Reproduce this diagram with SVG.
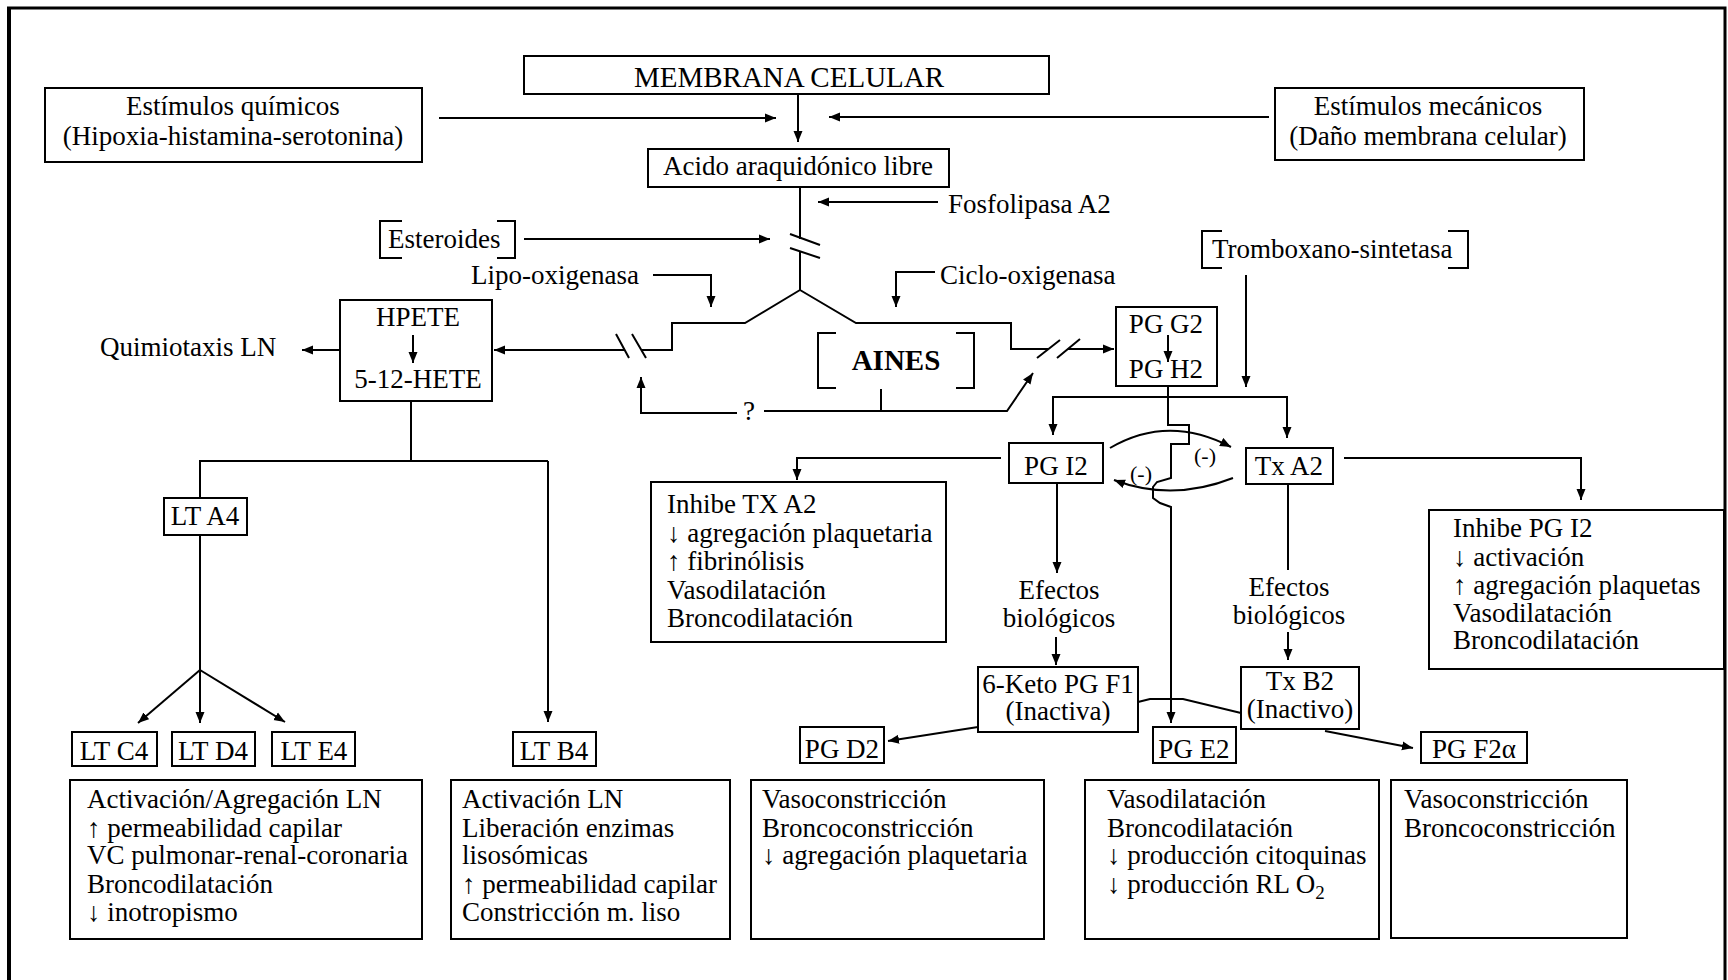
<svg xmlns="http://www.w3.org/2000/svg" width="1728" height="980" viewBox="0 0 1728 980">
<defs>
<style>
  text { font-family: "Liberation Serif", "Times New Roman", serif; font-size: 27px; fill: #000; }
  .c { text-anchor: middle; }
  .box { fill: #fff; stroke: #000; stroke-width: 2; }
  .brk { fill: none; stroke: #000; stroke-width: 2; }
  .ln { fill: none; stroke: #000; stroke-width: 2; }
  .arr { marker-end: url(#ah); }
  .sign { font-size: 22px; }
</style>
<marker id="ah" viewBox="0 0 11 10" refX="11" refY="5" markerWidth="11" markerHeight="10" markerUnits="userSpaceOnUse" orient="auto">
  <path d="M0,0.5 L11,5 L0,9.5 z" fill="#000"/>
</marker>
</defs>

<rect x="0" y="0" width="1728" height="980" fill="#fff"/>

<!-- outer frame -->
<g id="frame" fill="none" stroke="#000">
  <path d="M9,990 V8" stroke-width="4"/>
  <path d="M7,8 H1725 V990" stroke-width="3"/>
</g>

<!-- connectors -->
<g id="connectors">
  <path class="ln arr" d="M439,118 H776"/>
  <path class="ln arr" d="M1269,117 H829"/>
  <path class="ln arr" d="M798,94 V142"/>
  <path class="ln arr" d="M938,202 H818"/>
  <path class="ln" d="M800,187 V239"/>
  <path class="ln" d="M800,252 V290"/>
  <path class="ln" d="M790,234 L820,245 M790,248 L820,258"/>
  <path class="ln arr" d="M524,239 H770"/>
  <path class="ln arr" d="M653,275 H711 V307"/>
  <path class="ln arr" d="M935,272 H896 V307"/>

  <!-- lipo-oxigenasa branch -->
  <path class="ln" d="M800,290 L745,323 H672 V350 H641"/>
  <path class="ln" d="M616,334 L629,358 M632,334 L646,358"/>
  <path class="ln arr" d="M625,350 H494"/>
  <!-- ciclo-oxigenasa branch -->
  <path class="ln" d="M800,290 L856,323 H1011 V349 H1048"/>
  <path class="ln" d="M1037,358 L1060,340 M1057,358 L1080,339"/>
  <path class="ln arr" d="M1068,349 H1114"/>

  <!-- AINES feedback -->
  <path class="ln" d="M881,389 V411"/>
  <path class="ln arr" d="M764,411 H1007 L1033,373"/>
  <path class="ln arr" d="M737,413 H641 V377"/>

  <!-- leukotriene side -->
  <path class="ln arr" d="M340,350 H302"/>
  <path class="ln" d="M411,401 V461"/>
  <path class="ln" d="M200,498 V461 H548"/>
  <path class="ln arr" d="M548,461 V722"/>
  <path class="ln" d="M200,535 V670"/>
  <path class="ln arr" d="M200,670 L138,723"/>
  <path class="ln arr" d="M200,670 V723"/>
  <path class="ln arr" d="M200,670 L285,722"/>

  <!-- prostanoid side -->
  <path class="ln arr" d="M1246,275 V387"/>
  <path class="ln" d="M1168,386 V397"/>
  <path class="ln arr" d="M1168,397 H1053 V435"/>
  <path class="ln arr" d="M1168,397 H1287 V438"/>
  <path class="ln arr" d="M1168,397 V425 H1189 V444 H1171 V478 L1157,482 L1153,487 V498 L1160,503 L1171,507 V723"/>
  <path class="ln arr" d="M1110,448 Q1168,414 1231,447"/>
  <path class="ln arr" d="M1233,478 Q1172,502 1114,480"/>
  <path class="ln arr" d="M1001,458 H797 V480"/>
  <path class="ln arr" d="M1057,483 V573"/>
  <path class="ln arr" d="M1056,637 V665"/>
  <path class="ln arr" d="M1344,458 H1581 V500"/>
  <path class="ln" d="M1288,484 V570"/>
  <path class="ln arr" d="M1288,632 V660"/>
  <path class="ln arr" d="M978,727 L888,741"/>
  <path class="ln" d="M1138,702 L1150,699 H1183 L1241,713"/>
  <path class="ln arr" d="M1325,731 L1413,748"/>
</g>

<!-- nodes -->
<g id="membrana">
  <rect class="box" x="524" y="56" width="525" height="38"/>
  <text class="c" x="789" y="87" style="font-size:29px">MEMBRANA CELULAR</text>
</g>

<g id="estimulos-quimicos">
  <rect class="box" x="45" y="88" width="377" height="74"/>
  <text class="c" x="233" y="115">Estímulos químicos</text>
  <text class="c" x="233" y="145">(Hipoxia-histamina-serotonina)</text>
</g>

<g id="estimulos-mecanicos">
  <rect class="box" x="1275" y="88" width="309" height="72"/>
  <text class="c" x="1428" y="115">Estímulos mecánicos</text>
  <text class="c" x="1428" y="145">(Daño membrana celular)</text>
</g>

<g id="acido">
  <rect class="box" x="648" y="149" width="301" height="38"/>
  <text class="c" x="798" y="175">Acido araquidónico libre</text>
</g>

<g id="fosfolipasa">
  <text x="948" y="213">Fosfolipasa A2</text>
</g>

<g id="esteroides">
  <path class="brk" d="M402,221 H380 V258 H402 M497,221 H515 V258 H497"/>
  <text x="388" y="248">Esteroides</text>
</g>

<g id="lipo-oxigenasa">
  <text x="471" y="284">Lipo-oxigenasa</text>
</g>

<g id="ciclo-oxigenasa">
  <text x="940" y="284">Ciclo-oxigenasa</text>
</g>

<g id="tromboxano-sintetasa">
  <path class="brk" d="M1222,231 H1202 V268 H1222 M1448,231 H1468 V268 H1448"/>
  <text x="1212" y="258">Tromboxano-sintetasa</text>
</g>

<g id="hpete">
  <rect class="box" x="340" y="300" width="152" height="101"/>
  <text class="c" x="418" y="326">HPETE</text>
  <path class="ln arr" d="M413,335 V363"/>
  <text class="c" x="418" y="388">5-12-HETE</text>
</g>

<g id="quimiotaxis">
  <text x="100" y="356">Quimiotaxis LN</text>
</g>

<g id="aines">
  <path class="brk" d="M836,333 H818 V388 H836 M956,333 H974 V388 H956"/>
  <text class="c" x="896" y="370" style="font-size:29px;font-weight:bold">AINES</text>
</g>

<g id="interrogante">
  <text class="c" x="749" y="420">?</text>
</g>

<g id="pgg2-pgh2">
  <rect class="box" x="1116" y="307" width="101" height="79"/>
  <text class="c" x="1166" y="333">PG G2</text>
  <path class="ln arr" d="M1168,335 V362"/>
  <text class="c" x="1166" y="378">PG H2</text>
</g>

<g id="pgi2">
  <rect class="box" x="1009" y="443" width="94" height="40"/>
  <text class="c" x="1056" y="475">PG I2</text>
</g>

<g id="txa2">
  <rect class="box" x="1246" y="448" width="87" height="36"/>
  <text class="c" x="1289" y="475">Tx A2</text>
</g>

<g id="inhibicion">
  <text class="c sign" x="1205" y="463">(-)</text>
  <text class="c sign" x="1141" y="481">(-)</text>
</g>

<g id="inhibe-txa2">
  <rect class="box" x="651" y="482" width="295" height="160"/>
  <text x="667" y="513">Inhibe TX A2</text>
  <text x="667" y="542">↓ agregación plaquetaria</text>
  <text x="667" y="570">↑ fibrinólisis</text>
  <text x="667" y="599">Vasodilatación</text>
  <text x="667" y="627">Broncodilatación</text>
</g>

<g id="inhibe-pgi2">
  <rect class="box" x="1429" y="510" width="295" height="159"/>
  <text x="1453" y="537">Inhibe PG I2</text>
  <text x="1453" y="566">↓ activación</text>
  <text x="1453" y="594">↑ agregación plaquetas</text>
  <text x="1453" y="622">Vasodilatación</text>
  <text x="1453" y="649">Broncodilatación</text>
</g>

<g id="efectos-pgi2">
  <text class="c" x="1059" y="599">Efectos</text>
  <text class="c" x="1059" y="627">biológicos</text>
</g>

<g id="efectos-txa2">
  <text class="c" x="1289" y="596">Efectos</text>
  <text class="c" x="1289" y="624">biológicos</text>
</g>

<g id="keto-pgf1">
  <rect class="box" x="978" y="667" width="160" height="65"/>
  <text class="c" x="1058" y="693">6-Keto PG F1</text>
  <text class="c" x="1058" y="720">(Inactiva)</text>
</g>

<g id="txb2">
  <rect class="box" x="1241" y="667" width="118" height="62"/>
  <text class="c" x="1300" y="690">Tx B2</text>
  <text class="c" x="1300" y="718">(Inactivo)</text>
</g>

<g id="pgd2">
  <rect class="box" x="800" y="727" width="84" height="36"/>
  <text class="c" x="842" y="758">PG D2</text>
</g>

<g id="pge2">
  <rect class="box" x="1153" y="727" width="83" height="36"/>
  <text class="c" x="1194" y="758">PG E2</text>
</g>

<g id="pgf2a">
  <rect class="box" x="1421" y="732" width="106" height="31"/>
  <text class="c" x="1474" y="758">PG F2α</text>
</g>

<g id="lta4">
  <rect class="box" x="164" y="498" width="83" height="37"/>
  <text class="c" x="205" y="525">LT A4</text>
</g>

<g id="ltc4">
  <rect class="box" x="72" y="732" width="85" height="34"/>
  <text class="c" x="114" y="760">LT C4</text>
</g>

<g id="ltd4">
  <rect class="box" x="172" y="732" width="83" height="34"/>
  <text class="c" x="213" y="760">LT D4</text>
</g>

<g id="lte4">
  <rect class="box" x="272" y="732" width="83" height="34"/>
  <text class="c" x="314" y="760">LT E4</text>
</g>

<g id="ltb4">
  <rect class="box" x="513" y="732" width="83" height="34"/>
  <text class="c" x="554" y="760">LT B4</text>
</g>

<g id="efectos-lt-cde4">
  <rect class="box" x="70" y="780" width="352" height="159"/>
  <text x="87" y="808">Activación/Agregación LN</text>
  <text x="87" y="837">↑ permeabilidad capilar</text>
  <text x="87" y="864">VC pulmonar-renal-coronaria</text>
  <text x="87" y="893">Broncodilatación</text>
  <text x="87" y="921">↓ inotropismo</text>
</g>

<g id="efectos-ltb4">
  <rect class="box" x="451" y="780" width="279" height="159"/>
  <text x="462" y="808">Activación LN</text>
  <text x="462" y="837">Liberación enzimas</text>
  <text x="462" y="864">lisosómicas</text>
  <text x="462" y="893">↑ permeabilidad capilar</text>
  <text x="462" y="921">Constricción m. liso</text>
</g>

<g id="efectos-pgd2">
  <rect class="box" x="751" y="780" width="293" height="159"/>
  <text x="762" y="808">Vasoconstricción</text>
  <text x="762" y="837">Broncoconstricción</text>
  <text x="762" y="864">↓ agregación plaquetaria</text>
</g>

<g id="efectos-pge2">
  <rect class="box" x="1085" y="780" width="294" height="159"/>
  <text x="1107" y="808">Vasodilatación</text>
  <text x="1107" y="837">Broncodilatación</text>
  <text x="1107" y="864">↓ producción citoquinas</text>
  <text x="1107" y="893">↓ producción RL O<tspan style="font-size:19px" dy="6">2</tspan></text>
</g>

<g id="efectos-pgf2a">
  <rect class="box" x="1391" y="780" width="236" height="158"/>
  <text x="1404" y="808">Vasoconstricción</text>
  <text x="1404" y="837">Broncoconstricción</text>
</g>
</svg>
